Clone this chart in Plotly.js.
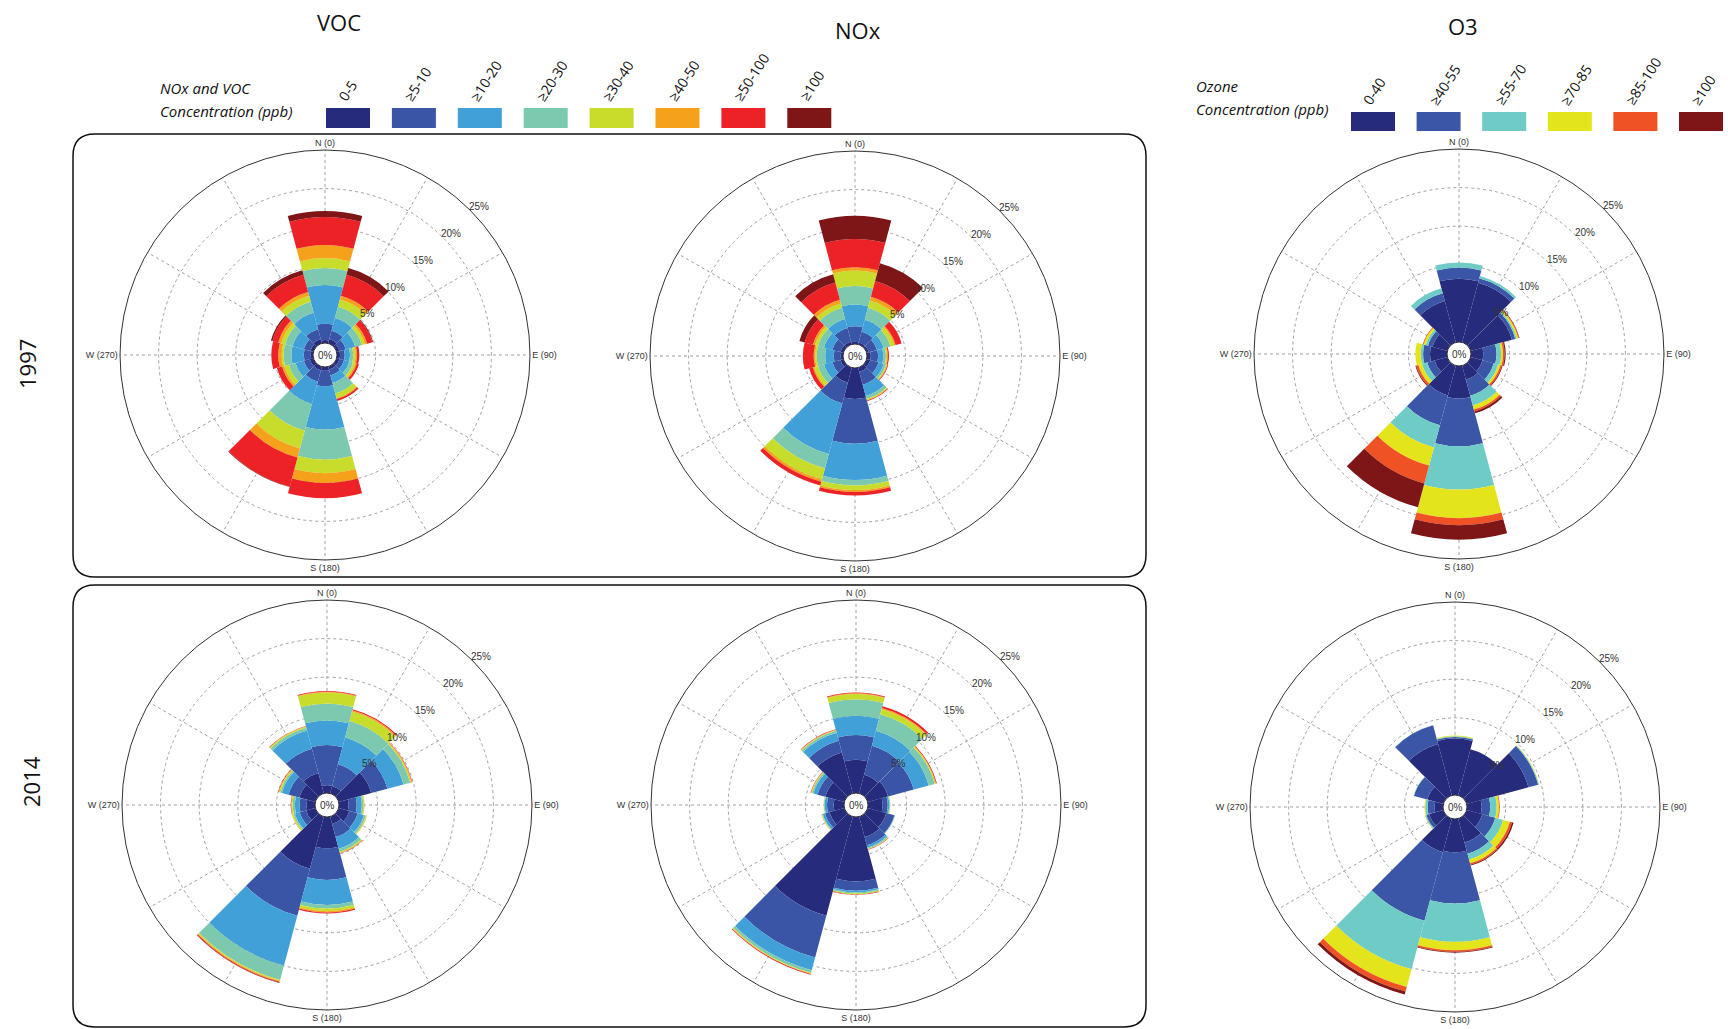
<!DOCTYPE html>
<html><head><meta charset="utf-8">
<script src="https://cdn.plot.ly/plotly-3.0.1.min.js"></script>
<style>html,body{margin:0;padding:0;background:#fff}#chart{width:1728px;height:1029px}</style>
</head><body><div id="chart"></div>
<script>
// wind directions (degrees, sector centres, 30° sectors)
const directions = [0,30,60,90,120,150,180,210,240,270,300,330];
const cardinalLabels = ['N (0)','','','E (90)','','','S (180)','','','W (270)','',''];
const radialTicks = [5,10,15,20,25];
const radialTickText = ['5%','10%','15%','20%','25%'];

const nvBins = ['0-5','≥5-10','≥10-20','≥20-30','≥30-40','≥40-50','≥50-100','≥100'];
const o3Bins = ['0-40','≥40-55','≥55-70','≥70-85','≥85-100','≥100'];
const nvColors = ['#272b7b','#3a55a5','#41a0d8','#7dc9b0','#c8dc2c','#f6a11c','#ec2227','#7e1517'];
const o3Colors = ['#272b7b','#3b56a6','#6ecbc5','#e3e41b','#ef5224','#7e1517'];

// frequency (%) per concentration bin (rows) and direction (columns)
const voc1997 = [
  [0.4,0.6,0.4,0.4,0.4,0.4,0.5,0.5,0.5,0.3,0.4,0.6],
  [2.1,1.1,0.85,0.6,0.6,0.8,2.0,1.5,0.8,0.9,0.9,1.3],
  [5.0,1.7,1.25,0.7,0.7,1.0,5.6,3.0,1.1,1.6,1.5,2.2],
  [2.2,1.5,0.9,0.4,0.5,1.4,3.9,3.6,0.9,1.0,1.0,1.5],
  [1.3,1.0,0.4,0.3,0.3,0.6,1.75,2.4,0.6,0.25,0.5,0.8],
  [1.7,0.5,0.3,0.2,0.2,0.15,1.25,1.2,0.3,0.45,0.4,0.5],
  [3.6,2.8,0.7,0.3,0.3,0.25,2.0,3.9,0.7,0.9,0.8,2.3],
  [0.8,0.9,0.1,0,0,0,0,0.05,0,0,0.2,0.6]
];
const nox1997 = [
  [0.3,0.3,0.3,0.5,0.5,0.6,4.0,2.0,0.4,0.3,0.4,0.4],
  [2.0,1.4,1.1,0.95,1.1,1.7,5.8,2.8,1.1,0.9,1.1,1.8],
  [2.8,1.6,0.9,0.65,0.7,1.5,4.7,6.8,1.1,1.1,1.1,1.2],
  [2.4,1.6,0.9,0.35,0.3,0.4,0.7,1.9,0.8,1.1,0.8,1.5],
  [2.0,1.0,0.5,0.15,0.15,0.15,0.6,1.5,0.5,0.2,0.4,0.6],
  [0.45,0.5,0.2,0.1,0.05,0.05,0.25,0.3,0.2,0.2,0.3,0.5],
  [3.65,2.1,0.8,0.15,0.1,0.1,0.45,0.5,0.5,1.4,1.1,2.3],
  [3.0,2.4,0,0,0,0,0,0,0,0,0.7,1.1]
];
const o31997 = [
  [8.2,8.0,5.55,1.6,1.6,1.9,4.2,4.0,1.7,2.2,2.0,5.55],
  [1.45,0.6,0.45,1.7,1.5,2.15,6.2,4.0,1.0,0.9,0.6,1.05],
  [0.65,0.3,0.2,0.6,0.6,1.3,5.6,3.0,0.7,0.3,0.3,0.65],
  [0,0,0.2,0.25,0.3,0.55,3.7,2.4,0.5,0.7,0.3,0],
  [0,0,0.1,0.2,0.2,0.25,0.9,2.4,0.3,0,0.1,0],
  [0,0,0.05,0.15,0.1,0.25,1.9,3.2,0.1,0,0,0]
];
const voc2014 = [
  [1.0,1.0,4.4,1.25,1.45,1.0,4.05,7.0,1.25,1.1,2.15,2.75],
  [5.2,2.9,2.15,1.05,1.1,1.75,4.1,6.3,0.85,0.9,1.45,3.25],
  [3.2,3.6,2.15,0.65,0.85,1.55,3.25,6.7,0.65,0.6,0.9,2.45],
  [2.2,2.2,0.9,0.2,0.25,0.4,0.45,1.9,0.2,0.3,0.2,0.35],
  [1.4,1.3,0.15,0.1,0.1,0.15,0.35,0.15,0.15,0.15,0.15,0.15],
  [0.1,0.15,0.1,0.05,0.05,0.05,0.15,0.1,0.05,0.05,0.1,0.05],
  [0.1,0.15,0.05,0,0,0.05,0.15,0.1,0,0.05,0.05,0.05],
  [0,0,0,0,0,0,0,0.05,0,0,0,0]
];
const nox2014 = [
  [4.3,2.5,2.75,1.9,2.5,2.75,8.35,13.3,2.0,1.35,2.55,5.5],
  [3.2,3.9,3.45,0.65,1.1,1.1,1.2,5.6,0.6,0.85,1.05,1.55],
  [2.5,2.0,2.0,0.2,0.05,0.3,0.2,1.7,0.3,0.3,0.55,1.1],
  [2.15,2.2,0.8,0.1,0.03,0.15,0.15,0.35,0.1,0.1,0.2,0.25],
  [0.65,0.7,0.15,0.05,0,0.05,0.1,0.1,0.05,0.05,0.1,0.1],
  [0.1,0.15,0.05,0,0,0.05,0.05,0.05,0.05,0,0.05,0.05],
  [0.1,0.25,0.1,0,0,0.05,0.05,0.1,0,0,0.05,0.05],
  [0,0,0,0,0,0,0,0,0,0,0,0]
];
const o32014 = [
  [7.3,6.2,8.3,1.9,2.1,3.2,4.3,4.5,1.9,1.1,2.15,6.9],
  [0.2,0,1.3,1.1,1.75,1.5,6.65,9.2,0.4,0.9,1.8,2.5],
  [0.1,0,0.1,0.85,1.05,0.8,4.95,6.5,0.15,0.3,0.05,0.05],
  [0.1,0,0.05,0.3,0.9,0.5,1.1,2.4,0.05,0.1,0,0],
  [0,0,0,0.1,0.3,0.2,0.2,0.6,0,0,0,0],
  [0,0,0,0,0.2,0.1,0.1,0.4,0,0,0,0]
];

const W = 1728, H = 1029, R = 205, HOLE = 12, RMAX = 25;
const panels = [
  {data: voc1997, bins: nvBins, colors: nvColors, cx: 325, cy: 355},
  {data: nox1997, bins: nvBins, colors: nvColors, cx: 855, cy: 356},
  {data: o31997,  bins: o3Bins, colors: o3Colors, cx: 1459, cy: 354},
  {data: voc2014, bins: nvBins, colors: nvColors, cx: 327, cy: 805},
  {data: nox2014, bins: nvBins, colors: nvColors, cx: 856, cy: 805},
  {data: o32014,  bins: o3Bins, colors: o3Colors, cx: 1455, cy: 807}
];

const px = v => v / W, py = v => 1 - v / H;
const traces = [];
const layout = {
  width: W, height: H, margin: {l:0, r:0, t:0, b:0}, autosize: false,
  paper_bgcolor: '#fff', showlegend: false,
  font: {family: 'Liberation Sans, Arial, sans-serif', color: '#222'},
  annotations: [], shapes: []
};
const note = (text, x, y, extra) => Object.assign({xref: 'paper', yref: 'paper', x: px(x), y: py(y),
  text: text, showarrow: false, xanchor: 'center', yanchor: 'middle'}, extra || {});

panels.forEach((p, i) => {
  const sp = i === 0 ? 'polar' : 'polar' + (i + 1);
  p.data.forEach((vals, j) => {
    traces.push({
      type: 'barpolar', subplot: sp, r: vals, theta: directions, width: 30,
      name: p.bins[j], marker: {color: p.colors[j], line: {width: 0}},
      hovertemplate: p.bins[j] + ' ppb<br>%{theta}°: %{r}%<extra></extra>'
    });
  });
  layout[sp] = {
    domain: {x: [px(p.cx - R), px(p.cx + R)], y: [py(p.cy + R), py(p.cy - R)]},
    hole: HOLE / R, bgcolor: 'rgba(0,0,0,0)', barmode: 'stack',
    radialaxis: {
      range: [0, RMAX], tickvals: radialTicks, showticklabels: false, angle: 45,
      showline: false, ticks: '', gridcolor: '#a0a0a0', griddash: 'dot', gridwidth: 1
    },
    angularaxis: {
      rotation: 90, direction: 'clockwise', tickvals: directions, ticktext: cardinalLabels,
      showline: true, linecolor: '#333', linewidth: 1, gridcolor: '#a0a0a0', griddash: 'dot',
      ticks: '', tickfont: {size: 9, color: '#333', family: 'Liberation Sans, Arial'}
    }
  };
  // centre label and ring labels (placed just outside each ring along ~46°)
  layout.annotations.push(note('0%', p.cx, p.cy, {font: {size: 10, color: '#333'}}));
  const a = 46 * Math.PI / 180;
  radialTicks.forEach((v, k) => {
    const rr = HOLE + (R - HOLE) * v / RMAX + 8.5;
    layout.annotations.push(note(radialTickText[k], p.cx + rr * Math.sin(a), p.cy - rr * Math.cos(a),
      {font: {size: 10, color: '#333'}}));
  });
});

// titles and row labels
const tf = {family: 'Open Sans, sans-serif', size: 22, color: '#111'};
layout.annotations.push(note('VOC', 339, 22, {font: tf}), note('NOx', 858, 30, {font: tf}),
  note('O3', 1463, 26, {font: tf}));
layout.annotations.push(note('1997', 27, 364, {font: tf, textangle: -90}));
layout.annotations.push(note('2014', 31, 782, {font: tf, textangle: -90}));

// legend headers
const hf = {family: 'Open Sans, sans-serif', size: 15, color: '#111'};
layout.annotations.push(note('<i>NOx and VOC</i>', 158, 88, {font: hf, xanchor: 'left'}),
  note('<i>Concentration (ppb)</i>', 158, 111, {font: hf, xanchor: 'left'}));
layout.annotations.push(note('<i>Ozone</i>', 1194, 86, {font: hf, xanchor: 'left'}),
  note('<i>Concentration (ppb)</i>', 1194, 109, {font: hf, xanchor: 'left'}));

// legend swatches + rotated labels
function legend(bins, colors, x0, step, top, bottom) {
  bins.forEach((b, j) => {
    const xs = x0 + step * j;
    layout.shapes.push({type: 'rect', xref: 'paper', yref: 'paper', x0: px(xs), x1: px(xs + 44),
      y0: py(bottom), y1: py(top), fillcolor: colors[j], line: {width: 0}});
    layout.annotations.push(note(b, xs + 5, top - 1, {xanchor: 'left', yanchor: 'bottom', textangle: -57,
      font: {family: 'Open Sans, sans-serif', size: 14, color: '#111'}}));
  });
}
legend(nvBins, nvColors, 326, 65.9, 108, 128);
legend(o3Bins, o3Colors, 1351, 65.6, 112, 131);

// rounded frames around the VOC/NOx rows
function rr(x0, y0, x1, y1, r) {
  const X = v => px(v).toFixed(5), Y = v => py(v).toFixed(5);
  return `M${X(x0+r)},${Y(y0)} L${X(x1-r)},${Y(y0)} Q${X(x1)},${Y(y0)} ${X(x1)},${Y(y0+r)} ` +
    `L${X(x1)},${Y(y1-r)} Q${X(x1)},${Y(y1)} ${X(x1-r)},${Y(y1)} L${X(x0+r)},${Y(y1)} ` +
    `Q${X(x0)},${Y(y1)} ${X(x0)},${Y(y1-r)} L${X(x0)},${Y(y0+r)} Q${X(x0)},${Y(y0)} ${X(x0+r)},${Y(y0)} Z`;
}
layout.shapes.push({type: 'path', xref: 'paper', yref: 'paper', path: rr(73, 134, 1146, 577, 22),
  line: {color: '#111', width: 1.5}});
layout.shapes.push({type: 'path', xref: 'paper', yref: 'paper', path: rr(73, 585, 1146, 1027, 22),
  line: {color: '#111', width: 1.5}});

Plotly.newPlot('chart', traces, layout, {displayModeBar: false});
</script>
</body></html>
